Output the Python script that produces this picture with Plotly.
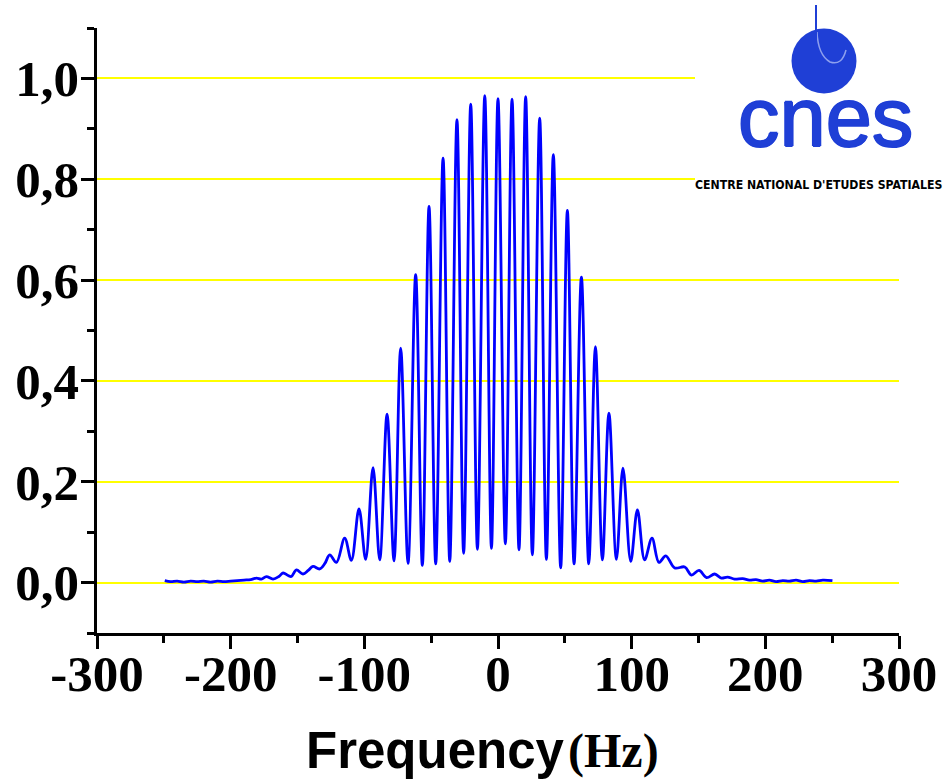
import plotly.graph_objects as go

# ---- data ----
peak_freq = [-125.9, -114.7, -104.0, -93.5, -83.0, -72.8, -61.6, -51.6, -41.1, -30.7, -20.4, -9.9,
             0.0, 10.5, 20.7, 31.2, 41.4, 51.9, 62.4, 72.9, 83.0, 93.5, 104.3, 115.2, 125.5]
peak_amp = [0.055, 0.088, 0.146, 0.228, 0.334, 0.465, 0.611, 0.746, 0.842, 0.918, 0.949, 0.966,
            0.960, 0.959, 0.964, 0.921, 0.849, 0.738, 0.606, 0.468, 0.336, 0.227, 0.144, 0.088, 0.053]
trough_freq = [-120.9, -109.7, -99.0, -88.5, -77.8, -67.3, -56.6, -46.6, -36.1, -25.7, -15.4, -4.9,
               5.5, 15.7, 25.7, 36.2, 46.9, 56.9, 67.9, 78.1, 88.6, 99.3, 109.7, 120.4]
trough_amp = [0.040, 0.044, 0.046, 0.045, 0.043, 0.038, 0.034, 0.037, 0.042, 0.058, 0.066, 0.068,
              0.077, 0.065, 0.055, 0.046, 0.029, 0.037, 0.037, 0.045, 0.046, 0.042, 0.045, 0.040]
wing_left_freq = [-249.3, -245, -240, -235, -230, -225, -220, -215, -210, -205, -200, -195, -190,
                  -185, -180.7, -177, -173.3, -168.3, -164, -160.8, -157, -154.6, -150.8, -145.9,
                  -142, -138.4, -133.4, -129.5]
wing_left_amp = [0.004, 0.002, 0.003, 0.001, 0.003, 0.002, 0.003, 0.001, 0.003, 0.002, 0.003, 0.004,
                 0.005, 0.006, 0.009, 0.007, 0.012, 0.007, 0.012, 0.019, 0.014, 0.012, 0.025, 0.017,
                 0.024, 0.032, 0.027, 0.038]
wing_right_freq = [132.2, 139.7, 144.7, 150.4, 156.1, 162.1, 167.1, 171.7, 177, 183.1, 188, 193, 198,
                   203, 208, 213, 218, 223, 228, 233, 238, 243, 250.2]
wing_right_amp = [0.029, 0.031, 0.015, 0.024, 0.010, 0.017, 0.009, 0.011, 0.007, 0.008, 0.005, 0.006,
                  0.003, 0.005, 0.002, 0.004, 0.003, 0.005, 0.002, 0.004, 0.003, 0.005, 0.004]

x_tick_vals = [-300, -200, -100, 0, 100, 200, 300]
x_tick_text = ["-300", "-200", "-100", "0", "100", "200", "300"]
y_tick_vals = [0.0, 0.2, 0.4, 0.6, 0.8, 1.0]
y_tick_text = ["0,0", "0,2", "0,4", "0,6", "0,8", "1,0"]

# combine into one ordered curve
pts = sorted(zip(wing_left_freq + peak_freq + trough_freq + wing_right_freq,
                 wing_left_amp + peak_amp + trough_amp + wing_right_amp))
xs = [p[0] for p in pts]
ys = [p[1] for p in pts]

fig = go.Figure()
fig.add_trace(go.Scatter(x=xs, y=ys, mode="lines",
                         line=dict(color="#0000ff", width=2.8, shape="spline", smoothing=1.0),
                         showlegend=False, hoverinfo="skip"))

tickfont = dict(family="Liberation Serif, Times New Roman, serif", size=51, color="black", weight="bold")

fig.update_xaxes(range=[-300, 300], showline=True, linecolor="black", linewidth=2.5,
                 showgrid=False, zeroline=False, automargin=False,
                 tickmode="array", tickvals=x_tick_vals, ticktext=x_tick_text,
                 ticks="outside", ticklen=13, tickwidth=2.5, tickcolor="black",
                 minor=dict(ticks="outside", ticklen=7, tickwidth=2.5, tickcolor="black",
                            tickvals=[-250, -150, -50, 50, 150, 250], showgrid=False),
                 tickfont=tickfont, ticklabelstandoff=-19)
fig.update_yaxes(range=[-0.1, 1.1], showline=True, linecolor="black", linewidth=2.5,
                 showgrid=True, gridcolor="#ffff00", gridwidth=1.5, zeroline=False, automargin=False,
                 tickmode="array", tickvals=y_tick_vals, ticktext=y_tick_text,
                 ticks="outside", ticklen=13, tickwidth=2.5, tickcolor="black",
                 minor=dict(ticks="outside", ticklen=7, tickwidth=2.5, tickcolor="black",
                            tickvals=[-0.1, 0.1, 0.3, 0.5, 0.7, 0.9, 1.1], showgrid=False),
                 tickfont=tickfont, ticklabelstandoff=-8)

L, R, T, B = 97, 48, 28, 147
W, H = 947, 780
pw, ph = W - L - R, H - T - B


def px(xp):
    return (xp - L) / pw


def py(yp):
    return (H - B - yp) / ph


logo_blue = "#1f3fd6"
shapes = [
    # white logo background
    dict(type="rect", xref="paper", yref="paper", x0=px(695), x1=px(960), y0=py(197), y1=py(-5),
         fillcolor="white", line=dict(width=0), layer="above"),
    # globe
    dict(type="circle", xref="paper", yref="paper", x0=px(791.5), x1=px(856.5), y0=py(93.5), y1=py(28.5),
         fillcolor=logo_blue, line=dict(width=0), layer="above"),
    # light stroke in globe
    dict(type="path", xref="paper", yref="paper",
         path=f"M {px(817)} {py(32)} Q {px(818)} {py(55)} {px(830)} {py(62)} Q {px(842)} {py(66)} {px(846)} {py(50)}",
         line=dict(color="#8ea0ee", width=1.5), layer="above"),
    # needle
    dict(type="line", xref="paper", yref="paper", x0=px(816), x1=px(816), y0=py(5), y1=py(63),
         line=dict(color=logo_blue, width=2), layer="above"),
]

thick = f"1px 0 0 {logo_blue}, -1px 0 0 {logo_blue}, 0 1px 0 {logo_blue}, 0 -1px 0 {logo_blue}"
annotations = [
    dict(text="cnes", xref="paper", yref="paper", x=px(825), y=py(118), xanchor="center", yanchor="middle",
         showarrow=False, font=dict(family="Liberation Sans, Arial, sans-serif", size=83, color=logo_blue,
                                    shadow=thick)),
    dict(text="CENTRE NATIONAL D'ETUDES SPATIALES", xref="paper", yref="paper", x=px(693), y=py(185),
         xanchor="left", yanchor="middle", showarrow=False,
         font=dict(family="Liberation Sans Narrow, Arial Narrow, DejaVu Sans Condensed, sans-serif",
                   size=12.2, color="black", weight="bold")),
    dict(text="Frequency", xref="paper", yref="paper", x=px(304), y=py(750), xanchor="left", yanchor="middle",
         showarrow=False, font=dict(family="Liberation Sans, Arial, sans-serif", size=51, color="black",
                                    weight="bold")),
    dict(text="(Hz)", xref="paper", yref="paper", x=px(566), y=py(751), xanchor="left", yanchor="middle",
         showarrow=False, font=dict(family="Liberation Serif, Times New Roman, serif", size=48, color="black",
                                    weight="bold")),
]

fig.update_layout(width=W, height=H, autosize=False,
                  margin=dict(l=L, r=R, t=T, b=B, pad=0),
                  paper_bgcolor="white", plot_bgcolor="white",
                  shapes=shapes, annotations=annotations, showlegend=False)

fig.write_html("out.html")
